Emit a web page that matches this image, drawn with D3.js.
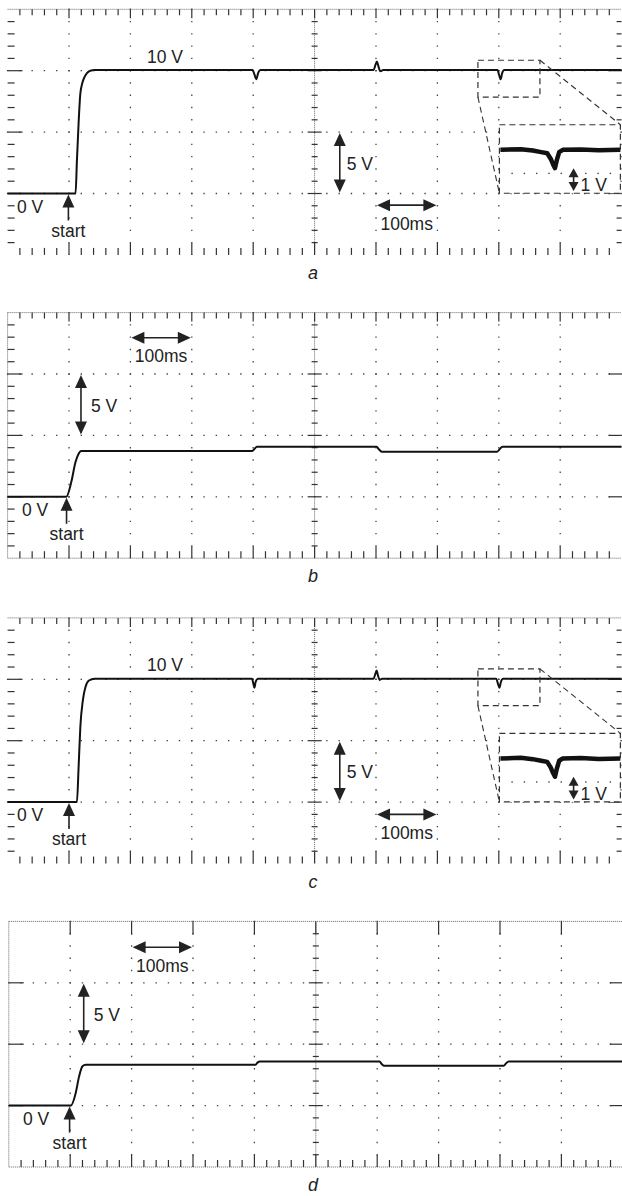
<!DOCTYPE html>
<html>
<head>
<meta charset="utf-8">
<script src="https://cdn.jsdelivr.net/npm/d3@7"></script>
<style>
  body { margin: 0; background: #fff; }
  svg { display: block; }
  text { font-family: "Liberation Sans", Arial, Helvetica, sans-serif; fill: #222; }
</style>
</head>
<body>
<script>
// Scope settings: 100 ms / div horizontally, 5 V / div vertically
const timeDomain = [0, 1000];
const voltDomain = [-5, 15];
const timeGrid = [100, 200, 300, 400, 600, 700, 800, 900];
const voltGrid = [0, 5, 10];

// Traces (time in ms, level in V)
const timeA = [0, 110.7, 112.9, 115.6, 118.4, 121.7, 125.4, 129.2, 134.7, 141.7, 250, 399, 402, 405, 408, 412, 500, 596, 599, 601.5, 604, 607, 612, 700, 798, 800.5, 803, 805.5, 809, 1000];
const voltA = [0, 0, 2.7, 5.7, 8.1, 9.0, 9.5, 9.8, 10.0, 10.05, 10.05, 10.05, 9.7, 9.3, 9.8, 10.05, 10.05, 10.05, 10.45, 10.75, 10.35, 9.95, 10.05, 10.05, 10.05, 9.65, 9.3, 9.8, 10.05, 10.05];

const timeB = [0, 95.6, 103.7, 110.7, 115.1, 120, 250, 398, 402, 406, 500, 601, 605, 610, 700, 797, 801, 806, 1000];
const voltB = [0, 0, 1.2, 2.85, 3.45, 3.72, 3.72, 3.72, 3.9, 4.07, 4.07, 4.07, 3.85, 3.66, 3.66, 3.66, 3.85, 4.07, 4.07];

const timeC = [0, 112.9, 115.6, 118.4, 122.6, 127, 132.4, 141.7, 250, 398, 400, 402, 404, 408, 500, 596, 599, 601, 603, 606, 610, 700, 796, 798.5, 801, 803.5, 807, 1000];
const voltC = [0, 0, 2.8, 6.06, 8.3, 9.4, 9.9, 10.05, 10.05, 10.05, 9.7, 9.32, 9.8, 10.05, 10.05, 10.05, 10.45, 10.72, 10.35, 9.95, 10.05, 10.05, 10.05, 9.65, 9.32, 9.8, 10.05, 10.05];

const timeD = [0, 101, 109, 114.5, 120, 125.4, 250, 402, 405, 409, 500, 604, 607, 611, 700, 806, 810, 814, 1000];
const voltD = [0, 0, 1.03, 2.38, 3.2, 3.33, 3.33, 3.33, 3.5, 3.6, 3.6, 3.6, 3.4, 3.25, 3.25, 3.25, 3.45, 3.6, 3.6];

// Zoomed detail of the dip near 800 ms (panels a and c)
const insetTime = [758, 775, 785, 792, 797, 800, 802, 803.5, 805, 807, 810, 825, 840, 858];
const insetVolt = [10.0, 10.03, 9.97, 9.9, 9.85, 9.6, 9.35, 9.2, 9.55, 9.9, 10.0, 10.02, 9.98, 10.0];

const W = 622, H = 1196;
const div = 61.4;

const svg = d3.select("body").append("svg")
    .attr("width", W)
    .attr("height", H);

// panel layout and decorations
const panels = [
    { key: "a", top: 9.3, left: 7.6, time: timeA, volt: voltA, edges: "ac", ten: true, inset: true,
      five: { t: 541, v0: 5, v1: 0, dx: 7 }, ms: { t0: 600, t1: 700, v: -0.95 }, zeroX: 17, startT: 99 },
    { key: "b", top: 312.6, left: 7.6, time: timeB, volt: voltB, edges: "b", ten: false, inset: false,
      five: { t: 119.5, v0: 10, v1: 5, dx: 10 }, ms: { t0: 200, t1: 300, v: 12.95 }, zeroX: 22, startT: 96 },
    { key: "c", top: 617.9, left: 7.6, time: timeC, volt: voltC, edges: "ac", ten: true, inset: true,
      five: { t: 541, v0: 5, v1: 0, dx: 7 }, ms: { t0: 600, t1: 700, v: -1.0 }, zeroX: 17, startT: 100 },
    { key: "d", top: 921.4, left: 8.8, time: timeD, volt: voltD, edges: "d", ten: false, inset: false,
      five: { t: 122, v0: 10, v1: 5, dx: 10 }, ms: { t0: 200, t1: 300, v: 12.9 }, zeroX: 23, startT: 99 }
];

const ink = "#222";

function head(g, x, y, dir) {
    const L = 13, w = 6;
    let p;
    if (dir === "up") p = [[x, y], [x - w, y + L], [x + w, y + L]];
    if (dir === "down") p = [[x, y], [x - w, y - L], [x + w, y - L]];
    if (dir === "left") p = [[x, y], [x + L, y - w], [x + L, y + w]];
    if (dir === "right") p = [[x, y], [x - L, y - w], [x - L, y + w]];
    g.append("path").attr("d", "M" + p.join("L") + "Z").attr("fill", ink);
}

function vArrow(g, x, y0, y1) {
    g.append("line").attr("x1", x).attr("x2", x).attr("y1", y0 + 6).attr("y2", y1 - 6)
        .attr("stroke", ink).attr("stroke-width", 1.6);
    head(g, x, y0, "up");
    head(g, x, y1, "down");
}

function hArrow(g, y, x0, x1) {
    g.append("line").attr("y1", y).attr("y2", y).attr("x1", x0 + 6).attr("x2", x1 - 6)
        .attr("stroke", ink).attr("stroke-width", 1.6);
    head(g, x0, y, "left");
    head(g, x1, y, "right");
}

panels.forEach(p => {
    const x = d3.scaleLinear().domain(timeDomain).range([p.left, p.left + div * 10]);
    const y = d3.scaleLinear().domain(voltDomain).range([p.top + div * 4, p.top]);
    const g = svg.append("g");
    const minor = div / 5;
    const [x0, x1] = x.range();
    const [yb, yt] = y.range();

    // dotted graticule
    const dots = `1.4 ${minor - 1.4}`;
    g.selectAll(null).data(timeGrid).join("line")
        .attr("x1", d => x(d)).attr("x2", d => x(d))
        .attr("y1", yt - 0.7).attr("y2", yb)
        .attr("stroke", "#444").attr("stroke-width", 1.3)
        .attr("stroke-dasharray", dots);
    g.selectAll(null).data(voltGrid).join("line")
        .attr("y1", d => y(d)).attr("y2", d => y(d))
        .attr("x1", x0 - 0.7).attr("x2", x1)
        .attr("stroke", "#444").attr("stroke-width", 1.3)
        .attr("stroke-dasharray", dots);

    // centre axis with cross ticks
    const xc = x(500);
    g.append("line").attr("x1", xc).attr("x2", xc).attr("y1", yt).attr("y2", yb)
        .attr("stroke", "#666").attr("stroke-width", 1).attr("stroke-dasharray", "1 1");
    const vSteps = d3.range(voltDomain[0] + 1, voltDomain[1], 1);
    g.selectAll(null).data(vSteps).join("line")
        .attr("y1", d => y(d)).attr("y2", d => y(d))
        .attr("x1", d => xc - (d % 5 === 0 ? 7 : 3))
        .attr("x2", d => xc + (d % 5 === 0 ? 7 : 3))
        .attr("stroke", "#333").attr("stroke-width", 1.2);

    // frame lines
    const frameLine = (a, b, c, d) => g.append("line")
        .attr("x1", a).attr("y1", b).attr("x2", c).attr("y2", d)
        .attr("stroke", "#666").attr("stroke-width", 1).attr("stroke-dasharray", "1 1");
    frameLine(x0, yt, x1, yt);
    if (p.edges !== "ac") {
        frameLine(x0, yb, x1, yb);
        frameLine(x0, yt, x0, yb);
    }

    const tSteps = d3.range(timeDomain[0] + 20, timeDomain[1], 20);
    const isMajT = d => Math.round(d) % 100 === 0;
    const isMajV = d => d % 5 === 0;
    const tick = sel => sel.join("line").attr("stroke", "#333").attr("stroke-width", 1.2);

    // top ticks
    const topT = p.edges === "d" ? tSteps.filter(isMajT) : tSteps;
    tick(g.selectAll(null).data(topT))
        .attr("x1", d => x(d)).attr("x2", d => x(d))
        .attr("y1", yt).attr("y2", d => yt + (p.edges === "d" ? 13 : isMajT(d) ? 9 : 6));
    // bottom ticks
    tick(g.selectAll(null).data(tSteps))
        .attr("x1", d => x(d)).attr("x2", d => x(d))
        .attr("y1", yb).attr("y2", d => yb - (isMajT(d) ? 12 : 7));
    // left ticks
    const leftV = p.edges === "d" ? vSteps.filter(isMajV) : vSteps;
    tick(g.selectAll(null).data(leftV))
        .attr("y1", d => y(d)).attr("y2", d => y(d))
        .attr("x1", x0).attr("x2", d => x0 + (isMajV(d) ? 15 : 7));
    // right ticks
    const rightV = p.edges === "ac" ? vSteps : vSteps.filter(isMajV);
    tick(g.selectAll(null).data(rightV))
        .attr("y1", d => y(d)).attr("y2", d => y(d))
        .attr("x1", x1).attr("x2", d => x1 - (isMajV(d) ? 13 : 5));

    // the trace
    const pts = d3.zip(p.time, p.volt);
    g.append("path").datum(pts)
        .attr("fill", "none").attr("stroke", "#111").attr("stroke-width", 2)
        .attr("stroke-linejoin", "round")
        .attr("d", d3.line().curve(d3.curveMonotoneX).x(d => x(d[0])).y(d => y(d[1])));

    // labels
    const ann = g.append("g").attr("font-size", "17.5px");
    if (p.ten) {
        ann.append("text").attr("x", x(227)).attr("y", y(10) - 8).text("10 V");
    }
    ann.append("text").attr("x", p.zeroX).attr("y", y(0) + 19).text("0 V");
    const xs = x(p.startT);
    head(ann, xs, y(0) + 1, "up");
    ann.append("line").attr("x1", xs).attr("x2", xs).attr("y1", y(0) + 10).attr("y2", y(0) + 27)
        .attr("stroke", ink).attr("stroke-width", 1.6);
    ann.append("text").attr("x", xs).attr("y", y(0) + 43).attr("text-anchor", "middle").text("start");

    // 5 V and 100 ms scale arrows
    const fx = x(p.five.t);
    vArrow(ann, fx, y(p.five.v0) + 1, y(p.five.v1) - 1);
    ann.append("text").attr("x", fx + p.five.dx).attr("y", (y(p.five.v0) + y(p.five.v1)) / 2 + 7).text("5 V");
    const my = y(p.ms.v);
    hArrow(ann, my, x(p.ms.t0) + 1, x(p.ms.t1) - 1);
    ann.append("text").attr("x", (x(p.ms.t0) + x(p.ms.t1)) / 2).attr("y", my + 24.5)
        .attr("text-anchor", "middle").text("100ms");

    // zoomed inset
    if (p.inset) {
        const small = { t0: 766, t1: 867, v0: 7.85, v1: 10.85 };
        const big = { t0: 801, t1: 998, v0: 0.02, v1: 5.6 };
        const dash = "6 4";
        const box = b => g.append("rect")
            .attr("x", x(b.t0)).attr("y", y(b.v1))
            .attr("width", x(b.t1) - x(b.t0)).attr("height", y(b.v0) - y(b.v1))
            .attr("fill", "none").attr("stroke", "#333").attr("stroke-width", 1.2)
            .attr("stroke-dasharray", dash);
        box(small);
        g.append("rect")
            .attr("x", x(big.t0)).attr("y", y(big.v1))
            .attr("width", x(big.t1) - x(big.t0)).attr("height", y(big.v0) - y(big.v1))
            .attr("fill", "#fff");
        const connect = (a, b, c, d) => g.append("line")
            .attr("x1", x(a)).attr("y1", y(b)).attr("x2", x(c)).attr("y2", y(d))
            .attr("stroke", "#333").attr("stroke-width", 1.1).attr("stroke-dasharray", dash);
        connect(small.t0, small.v0, big.t0, big.v0);
        connect(small.t1, small.v1, big.t1, big.v1);

        const ix = d3.scaleLinear().domain([758, 858]).range([x(big.t0) + 1, x(big.t1)]);
        const iy = d3.scaleLinear().domain([8.1, 11.1]).range([y(big.v0), y(big.v1)]);
        // a few graticule dots visible inside the inset
        const idots = [];
        [9.0].forEach(v => d3.range(x(big.t0) + 12, x(big.t1) - 4, minor).forEach(px => idots.push([px, iy(v)])));
        g.selectAll(null).data(idots).join("rect")
            .attr("x", d => d[0]).attr("y", d => d[1]).attr("width", 1.4).attr("height", 1.4).attr("fill", "#444");
        g.append("path").datum(d3.zip(insetTime, insetVolt))
            .attr("fill", "none").attr("stroke", "#111").attr("stroke-width", 4.5)
            .attr("stroke-linejoin", "round")
            .attr("d", d3.line().x(d => ix(d[0])).y(d => iy(d[1])));
        const ax = ix(819);
        g.append("line").attr("x1", ax).attr("x2", ax).attr("y1", iy(9.2) + 6).attr("y2", iy(8.2) - 6)
            .attr("stroke", ink).attr("stroke-width", 1.6);
        const sh = (yy, up) => g.append("path")
            .attr("d", `M${ax},${yy}L${ax - 5},${yy + (up ? 9 : -9)}L${ax + 5},${yy + (up ? 9 : -9)}Z`)
            .attr("fill", ink);
        sh(iy(9.2), true);
        sh(iy(8.2), false);
        g.append("text").attr("font-size", "17.5px").attr("x", ax + 7).attr("y", iy(8.2)).text("1 V");
        box(big);
    }

    // caption
    svg.append("text")
        .attr("x", W / 2 + 2).attr("y", yb + 24)
        .attr("text-anchor", "middle")
        .attr("font-size", "18px").attr("font-style", "italic")
        .text(p.key);
});
</script>
</body>
</html>
